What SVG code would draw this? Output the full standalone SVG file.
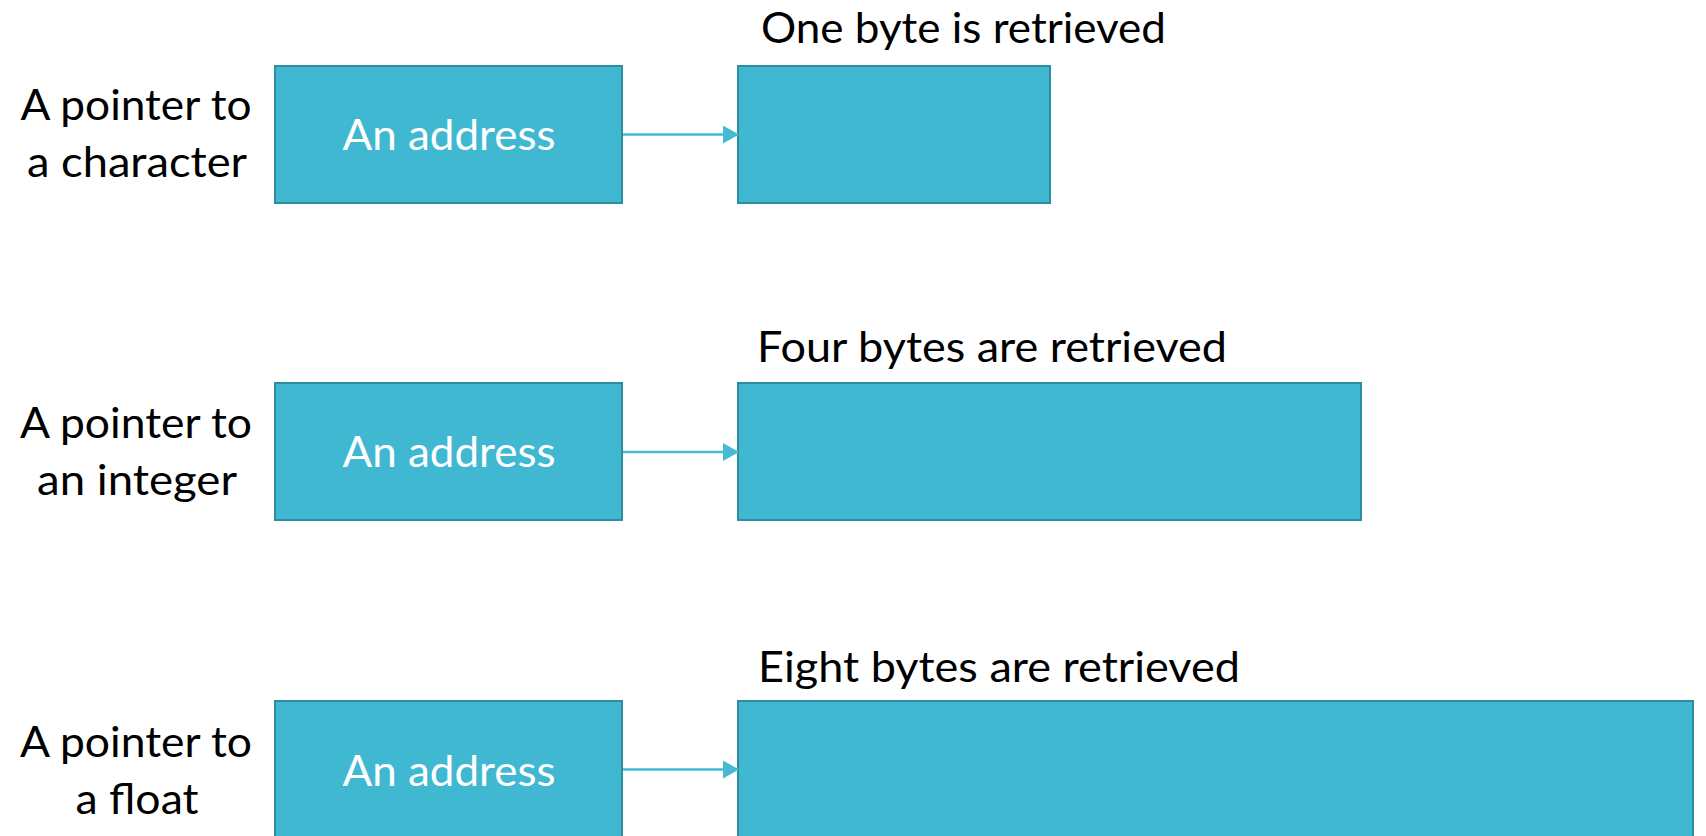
<svg xmlns="http://www.w3.org/2000/svg" width="1706" height="836" viewBox="0 0 1706 836">
<defs>
<style>
.box{fill:#41B8D2;stroke:#2D8C9F;stroke-width:2}
.lbl{font-family:Lato,"Open Sans","Liberation Sans",sans-serif;font-size:42px;fill:#000}
.in{font-family:Lato,"Open Sans","Liberation Sans",sans-serif;font-size:42px;fill:#fff;text-anchor:middle}
.mid{text-anchor:middle}
.conn{stroke:#45BAD5;stroke-width:2.5;fill:none}
</style>
<marker id="ah" markerUnits="userSpaceOnUse" markerWidth="16" markerHeight="18" refX="15" refY="9" orient="auto">
<path d="M0,0 L16,9 L0,18 Z" fill="#45BAD5"/>
</marker>
</defs>
<rect width="1706" height="836" fill="#fff"/>

<g id="row1-label"><text class="lbl mid" x="136" y="120" textLength="231" lengthAdjust="spacingAndGlyphs">A pointer to</text><text class="lbl mid" x="137" y="177" textLength="220" lengthAdjust="spacingAndGlyphs">a character</text></g>
<g id="row1-addr"><rect class="box" x="275" y="66" width="347" height="137"/><text class="in" x="449" y="150" textLength="213" lengthAdjust="spacingAndGlyphs">An address</text></g>
<g id="row1-title"><text class="lbl" x="761" y="43" textLength="405" lengthAdjust="spacingAndGlyphs">One byte is retrieved</text></g>
<g id="row1-mem"><rect class="box" x="738" y="66" width="312" height="137"/></g>

<g id="row2-label"><text class="lbl mid" x="136" y="438" textLength="232" lengthAdjust="spacingAndGlyphs">A pointer to</text><text class="lbl mid" x="137" y="495" textLength="200" lengthAdjust="spacingAndGlyphs">an integer</text></g>
<g id="row2-addr"><rect class="box" x="275" y="383" width="347" height="137"/><text class="in" x="449" y="467" textLength="213" lengthAdjust="spacingAndGlyphs">An address</text></g>
<g id="row2-title"><text class="lbl" x="757" y="362" textLength="470" lengthAdjust="spacingAndGlyphs">Four bytes are retrieved</text></g>
<g id="row2-mem"><rect class="box" x="738" y="383" width="623" height="137"/></g>

<g id="row3-label"><text class="lbl mid" x="136" y="757" textLength="232" lengthAdjust="spacingAndGlyphs">A pointer to</text><text class="lbl mid" x="137" y="814" textLength="123" lengthAdjust="spacingAndGlyphs">a float</text></g>
<g id="row3-addr"><rect class="box" x="275" y="701" width="347" height="140"/><text class="in" x="449" y="786" textLength="213" lengthAdjust="spacingAndGlyphs">An address</text></g>
<g id="row3-title"><text class="lbl" x="758" y="682" textLength="482" lengthAdjust="spacingAndGlyphs">Eight bytes are retrieved</text></g>
<g id="row3-mem"><rect class="box" x="738" y="701" width="955" height="140"/></g>

<g id="connectors">
<line class="conn" x1="623" y1="134.5" x2="738" y2="134.5" marker-end="url(#ah)"/>
<line class="conn" x1="623" y1="452" x2="738" y2="452" marker-end="url(#ah)"/>
<line class="conn" x1="623" y1="769.5" x2="738" y2="769.5" marker-end="url(#ah)"/>
</g>
</svg>
